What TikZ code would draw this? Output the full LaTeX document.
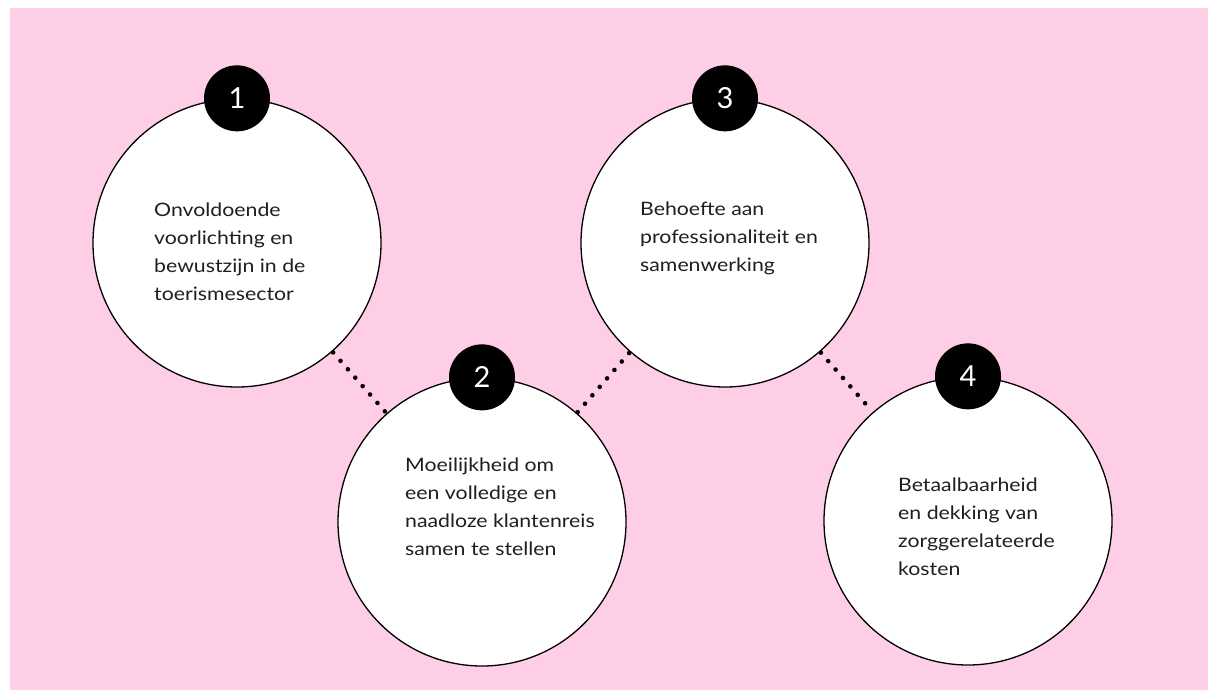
\documentclass[tikz,border=0pt]{standalone}
\usepackage{fontspec}
\setmainfont{Lato}
\newfontfamily\labelfont{Lato}[FakeStretch=1.15]
\definecolor{bgpink}{HTML}{FECDE6}
\begin{document}
\begin{tikzpicture}[x=1pt,y=-1pt,
  bigcirc/.style={circle,draw=black,line width=1.3pt,fill=white,minimum size=288pt,inner sep=0pt},
  badge/.style={circle,fill=black,minimum size=66pt,inner sep=0pt,text=white,font=\fontsize{29}{29}\selectfont},
  label/.style={align=left,inner sep=0pt,anchor=north west,text=black!88,font=\labelfont\fontsize{18.5}{28}\selectfont},
  dots/.style={line width=4.6pt,line cap=round,dash pattern=on 0pt off 11.2pt,shorten <=1pt,shorten >=1pt}]
\useasboundingbox (0,0) rectangle (1218,698);
\fill[white] (0,0) rectangle (1218,698);
\fill[bgpink] (10,8) rectangle (1208,690);
\node[bigcirc] (c1) at (237,243) {};
\node[bigcirc] (c2) at (482,522) {};
\node[bigcirc] (c3) at (725,243) {};
\node[bigcirc] (c4) at (968,521) {};
\draw[dots] (c1) -- (c2);
\draw[dots] (c2) -- (c3);
\draw[dots] (c3) -- (c4);
\node[badge] (b1) at (c1.north) {1};
\node[badge] (b2) at (c2.north) {2};
\node[badge] (b3) at (c3.north) {3};
\node[badge] (b4) at (c4.north) {4};
\node[label] (t1) at (154,203) {Onvoldoende\\voorlichting en\\bewustzijn in de\\toerismesector};
\node[label] (t2) at (405,458) {Moeilijkheid om\\een volledige en\\naadloze klantenreis\\samen te stellen};
\node[label] (t3) at (640,202) {Behoefte aan\\professionaliteit en\\samenwerking};
\node[label] (t4) at (898,478) {Betaalbaarheid\\en dekking van\\zorggerelateerde\\kosten};
\end{tikzpicture}
\end{document}
